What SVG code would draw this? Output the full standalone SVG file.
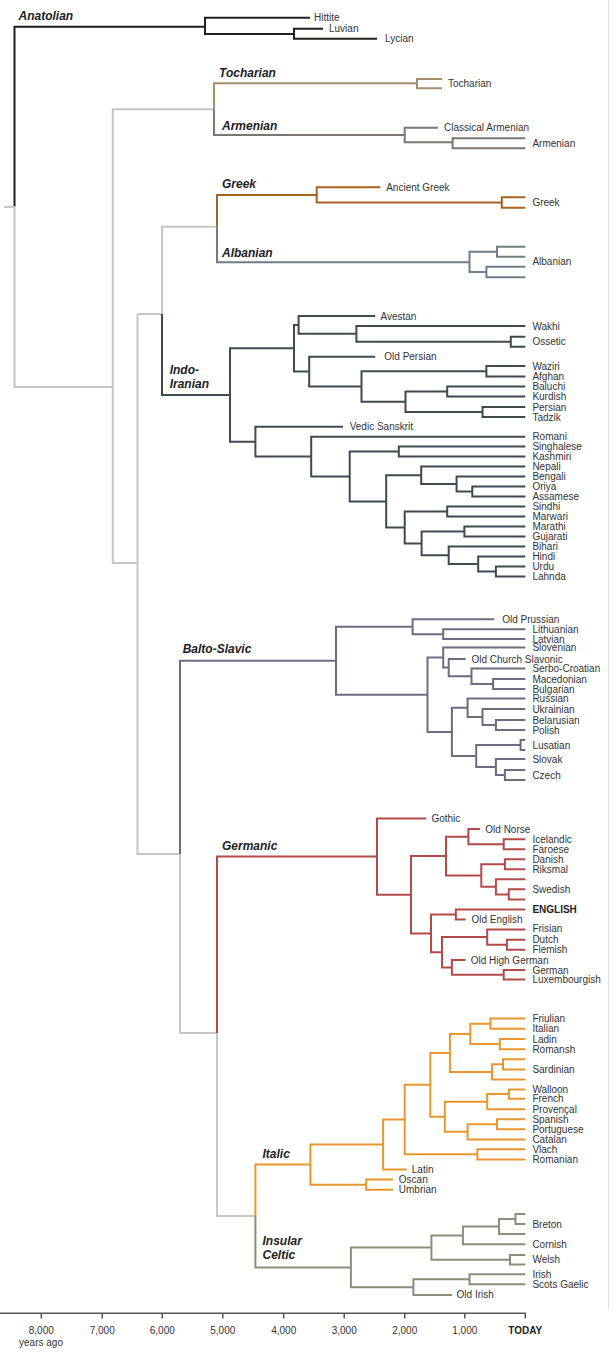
<svg xmlns="http://www.w3.org/2000/svg" width="616" height="1357" viewBox="0 0 616 1357">
<style>
path{fill:none;stroke-width:2;stroke-linejoin:miter;stroke-linecap:butt}
.an{stroke:#231f1c}.gr{stroke:#c6c6c6}.to{stroke:#a38f6b}.ar{stroke:#7b7672}.gk{stroke:#a5651f}.al{stroke:#6f7d89}.ii{stroke:#3f4a50}.bs{stroke:#6c6c80}.ge{stroke:#b34a4a}.it{stroke:#e8962e}.ce{stroke:#8b8f78}
text{font-family:"Liberation Sans",Arial,sans-serif;font-size:10px;fill:#333}
.cl{font-size:12px;font-weight:bold;font-style:italic;fill:#222}
.b{font-weight:bold;fill:#222}
.ax{stroke:#555;stroke-width:1.5}
.tk{text-anchor:middle}
</style>
<rect width="616" height="1357" fill="#fff"/>
<line x1="608.5" y1="0" x2="608.5" y2="1310" stroke="#e2e2e2" stroke-width="1"/>
<g id="connectors">
<path class="an" d="M14.5,207V26.7H205M310,17.7H205V34H294M323,28.7H294V38.7H377"/>
<path class="gr" d="M4,207H14.5V387H112.8M214,109.2H112.8V563H137.5M217,226.7H162V314H137.5M137.5,314V854H180M180,854V1033H217M217,1033V1216H255.4"/>
<path class="to" d="M214,109.2V83.3H417M442,79H417V88.3H442"/>
<path class="ar" d="M214,109.2V135H404.7M438,127.7H404.7V142.3H452.6M525.3,138.3H452.6V148.3H525.3"/>
<path class="gk" d="M217,226.7V195H316.7M380.4,187.3H316.7V202.5H501.8M525.3,197.3H501.8V207.7H525.3"/>
<path class="al" d="M217,226.7V262.3H469.5M497,251.7H469.5V272H486.4M525.3,246.7H497V256.7H525.3M525.3,266.7H486.4V277.3H525.3"/>
<path class="ii" d="M162,314V395H230M294,348.3H230V441.7H255.4M298.6,324.9H294V371.6H309.2M375.2,316H298.6V333.85H356.4M525.3,326H356.4V341.7H510.8M525.3,336.7H510.8V346.7H525.3M375.2,356.7H309.2V386.5H361.5M486.4,371.25H361.5V401.75H405.5M525.3,366H486.4V376.5H525.3M447.2,391.5H405.5V412H482.5M525.3,386.5H447.2V396.5H525.3M525.3,407H482.5V417H525.3M343,426.7H255.4V456.6H311.2M525.3,436.7H311.2V476.5H349.7M398.8,451.5H349.7V501.4H386.2M525.3,446.5H398.8V456.5H525.3M421.2,475.25H386.2V527.5H404.7M525.3,466.5H421.2V484H456.6M525.3,476.5H456.6V491.5H472.3M525.3,486.5H472.3V496.5H525.3M447.2,511.5H404.7V543.4H421.6M525.3,506.5H447.2V516.5H525.3M464.4,531.5H421.6V555.25H448.7M525.3,526.5H464.4V536.5H525.3M525.3,546.5H448.7V564H478.2M525.3,556.5H478.2V571.5H495.9M525.3,566.5H495.9V576.5H525.3"/>
<path class="bs" d="M180,854V660.7H336M412.6,626.7H336V694.75H427.5M494.3,619.3H412.6V634.15H443.2M525.3,629.3H443.2V639H525.3M443.2,657.6H427.5V731.9H451.9M525.3,647.5H443.2V667.6H448.7M465.6,659H448.7V676.25H471.5M525.3,668.5H471.5V684H493.1M525.3,679H493.1V689H525.3M467.6,707.75H451.9V756H476.2M525.3,698.5H467.6V717H482.5M525.3,709H482.5V725H495.9M525.3,720H495.9V730H525.3M520.6,745H476.2V767H495.9M525.3,740H520.6V750H525.3M525.3,759H495.9V775H504.9M525.3,770H504.9V780H525.3"/>
<path class="ge" d="M217,1033V856.6H377M426.3,818.5H377V894.75H411M446,856.1H411V933.4H431M468.4,836.65H446V875.6H481.3M480.2,829H468.4V844.3H503.7M525.3,839.3H503.7V849.3H525.3M504.9,864.3H481.3V886.85H495.9M525.3,859.3H504.9V869.3H525.3M525.3,879.3H495.9V894.4H508.8M525.3,889.3H508.8V899.5H525.3M455.8,914.5H431V952.25H442M525.3,909.5H455.8V919.5H465.6M487.2,937.1H442V967.4H451.9M525.3,929.5H487.2V944.75H506.9M525.3,939.7H506.9V949.8H525.3M465.6,960H451.9V974.75H503.7M525.3,970H503.7V979.5H525.3"/>
<path class="it" d="M255.4,1216V1164.6H310.4M383.1,1144.5H310.4V1184.65H366.2M404.7,1119.6H383.1V1169.4H406.7M430.3,1084.8H404.7V1154.35H477.4M449.9,1052.9H430.3V1116.7H444.8M470.3,1033.9H449.9V1071.9H492M490.4,1023.65H470.3V1044.1H499.8M525.3,1018.5H490.4V1028.8H525.3M525.3,1039H499.8V1049.2H525.3M503,1064.35H492V1079.5H525.3M525.3,1059.3H503V1069.4H525.3M487.2,1101.65H444.8V1131.8H467.6M508.8,1094.1H487.2V1109.2H525.3M525.3,1089.4H508.8V1098.8H525.3M497,1124.25H467.6V1139.4H525.3M525.3,1119.2H497V1129.3H525.3M525.3,1149.3H477.4V1159.4H525.3M393,1179.5H366.2V1189.8H393"/>
<path class="ce" d="M255.4,1216V1267.4H350.9M431.4,1247.6H350.9V1287.15H413.4M462.9,1235.4H431.4V1259.75H510M499,1226.5H462.9V1244.3H525.3M515.5,1219H499V1234H525.3M525.3,1214H515.5V1224H525.3M525.3,1255H510V1264.5H525.3M469.5,1279.3H413.4V1295H451.9M525.3,1274.3H469.5V1284.3H525.3"/>
</g>
<g id="clades">
<g id="c-anatolian"><text class="cl" x="18.5" y="20.3">Anatolian</text></g>
<g id="c-tocharian"><text class="cl" x="219" y="77">Tocharian</text></g>
<g id="c-armenian"><text class="cl" x="222" y="130">Armenian</text></g>
<g id="c-greek"><text class="cl" x="222" y="188.3">Greek</text></g>
<g id="c-albanian"><text class="cl" x="222" y="256.6">Albanian</text></g>
<g id="c-indoiranian"><text class="cl" x="169.7" y="374.3">Indo-</text><text class="cl" x="169.7" y="388.3">Iranian</text></g>
<g id="c-baltoslavic"><text class="cl" x="182.7" y="653.3">Balto-Slavic</text></g>
<g id="c-germanic"><text class="cl" x="222" y="850">Germanic</text></g>
<g id="c-italic"><text class="cl" x="262.5" y="1157.6">Italic</text></g>
<g id="c-celtic"><text class="cl" x="262.5" y="1245">Insular</text><text class="cl" x="262.5" y="1258.6">Celtic</text></g>
</g>
<g id="leaves">
<g id="l-hittite"><text x="314" y="21.2">Hittite</text></g>
<g id="l-luvian"><text x="329" y="32.2">Luvian</text></g>
<g id="l-lycian"><text x="385" y="42.2">Lycian</text></g>
<g id="l-tocharian"><text x="448" y="86.8">Tocharian</text></g>
<g id="l-classical-armenian"><text x="444" y="131.2">Classical Armenian</text></g>
<g id="l-armenian"><text x="532.4" y="146.8">Armenian</text></g>
<g id="l-ancient-greek"><text x="386.2" y="190.8">Ancient Greek</text></g>
<g id="l-greek"><text x="532.4" y="206">Greek</text></g>
<g id="l-albanian"><text x="532.4" y="265">Albanian</text></g>
<g id="l-avestan"><text x="380.4" y="319.5">Avestan</text></g>
<g id="l-wakhi"><text x="532.4" y="329.5">Wakhi</text></g>
<g id="l-ossetic"><text x="532.4" y="345.2">Ossetic</text></g>
<g id="l-old-persian"><text x="384.3" y="360.2">Old Persian</text></g>
<g id="l-waziri"><text x="532.4" y="369.5">Waziri</text></g>
<g id="l-afghan"><text x="532.4" y="380">Afghan</text></g>
<g id="l-baluchi"><text x="532.4" y="390">Baluchi</text></g>
<g id="l-kurdish"><text x="532.4" y="400">Kurdish</text></g>
<g id="l-persian"><text x="532.4" y="410.5">Persian</text></g>
<g id="l-tadzik"><text x="532.4" y="420.5">Tadzik</text></g>
<g id="l-vedic"><text x="349.7" y="430.2">Vedic Sanskrit</text></g>
<g id="l-romani"><text x="532.4" y="440.2">Romani</text></g>
<g id="l-singhalese"><text x="532.4" y="450">Singhalese</text></g>
<g id="l-kashmiri"><text x="532.4" y="460">Kashmiri</text></g>
<g id="l-nepali"><text x="532.4" y="470">Nepali</text></g>
<g id="l-bengali"><text x="532.4" y="480">Bengali</text></g>
<g id="l-oriya"><text x="532.4" y="490">Oriya</text></g>
<g id="l-assamese"><text x="532.4" y="500">Assamese</text></g>
<g id="l-sindhi"><text x="532.4" y="510">Sindhi</text></g>
<g id="l-marwari"><text x="532.4" y="520">Marwari</text></g>
<g id="l-marathi"><text x="532.4" y="530">Marathi</text></g>
<g id="l-gujarati"><text x="532.4" y="540">Gujarati</text></g>
<g id="l-bihari"><text x="532.4" y="550">Bihari</text></g>
<g id="l-hindi"><text x="532.4" y="560">Hindi</text></g>
<g id="l-urdu"><text x="532.4" y="570">Urdu</text></g>
<g id="l-lahnda"><text x="532.4" y="580">Lahnda</text></g>
<g id="l-old-prussian"><text x="502.2" y="622.8">Old Prussian</text></g>
<g id="l-lithuanian"><text x="532.4" y="632.8">Lithuanian</text></g>
<g id="l-latvian"><text x="532.4" y="642.5">Latvian</text></g>
<g id="l-slovenian"><text x="532.4" y="651">Slovenian</text></g>
<g id="l-ocs"><text x="471.5" y="662.5">Old Church Slavonic</text></g>
<g id="l-serbo-croatian"><text x="532.4" y="672">Serbo-Croatian</text></g>
<g id="l-macedonian"><text x="532.4" y="682.5">Macedonian</text></g>
<g id="l-bulgarian"><text x="532.4" y="692.5">Bulgarian</text></g>
<g id="l-russian"><text x="532.4" y="702">Russian</text></g>
<g id="l-ukrainian"><text x="532.4" y="712.5">Ukrainian</text></g>
<g id="l-belarusian"><text x="532.4" y="723.5">Belarusian</text></g>
<g id="l-polish"><text x="532.4" y="733.5">Polish</text></g>
<g id="l-lusatian"><text x="532.4" y="748.5">Lusatian</text></g>
<g id="l-slovak"><text x="532.4" y="762.5">Slovak</text></g>
<g id="l-czech"><text x="532.4" y="778.5">Czech</text></g>
<g id="l-gothic"><text x="431.4" y="822">Gothic</text></g>
<g id="l-old-norse"><text x="485.3" y="832.5">Old Norse</text></g>
<g id="l-icelandic"><text x="532.4" y="842.8">Icelandic</text></g>
<g id="l-faroese"><text x="532.4" y="852.8">Faroese</text></g>
<g id="l-danish"><text x="532.4" y="862.8">Danish</text></g>
<g id="l-riksmal"><text x="532.4" y="872.8">Riksmal</text></g>
<g id="l-swedish"><text x="532.4" y="892.8">Swedish</text></g>
<g id="l-english"><text class="b" x="532.4" y="913">ENGLISH</text></g>
<g id="l-old-english"><text x="471.5" y="923">Old English</text></g>
<g id="l-frisian"><text x="532.4" y="932">Frisian</text></g>
<g id="l-dutch"><text x="532.4" y="942.5">Dutch</text></g>
<g id="l-flemish"><text x="532.4" y="952.8">Flemish</text></g>
<g id="l-ohg"><text x="470.7" y="963.5">Old High German</text></g>
<g id="l-german"><text x="532.4" y="973.5">German</text></g>
<g id="l-luxembourgish"><text x="532.4" y="983">Luxembourgish</text></g>
<g id="l-friulian"><text x="532.4" y="1022">Friulian</text></g>
<g id="l-italian"><text x="532.4" y="1032.3">Italian</text></g>
<g id="l-ladin"><text x="532.4" y="1042.5">Ladin</text></g>
<g id="l-romansh"><text x="532.4" y="1052.7">Romansh</text></g>
<g id="l-sardinian"><text x="532.4" y="1072.9">Sardinian</text></g>
<g id="l-walloon"><text x="532.4" y="1092.9">Walloon</text></g>
<g id="l-french"><text x="532.4" y="1102.3">French</text></g>
<g id="l-provencal"><text x="532.4" y="1112.7">Provençal</text></g>
<g id="l-spanish"><text x="532.4" y="1122.7">Spanish</text></g>
<g id="l-portuguese"><text x="532.4" y="1132.8">Portuguese</text></g>
<g id="l-catalan"><text x="532.4" y="1142.9">Catalan</text></g>
<g id="l-vlach"><text x="532.4" y="1152.8">Vlach</text></g>
<g id="l-romanian"><text x="532.4" y="1162.9">Romanian</text></g>
<g id="l-latin"><text x="411.8" y="1172.9">Latin</text></g>
<g id="l-oscan"><text x="398.8" y="1183">Oscan</text></g>
<g id="l-umbrian"><text x="398.8" y="1193.3">Umbrian</text></g>
<g id="l-breton"><text x="532.4" y="1227.5">Breton</text></g>
<g id="l-cornish"><text x="532.4" y="1247.8">Cornish</text></g>
<g id="l-welsh"><text x="532.4" y="1263.2">Welsh</text></g>
<g id="l-irish"><text x="532.4" y="1277.8">Irish</text></g>
<g id="l-scots-gaelic"><text x="532.4" y="1287.8">Scots Gaelic</text></g>
<g id="l-old-irish"><text x="456.6" y="1298">Old Irish</text></g>
</g>
<g id="axis">
<path class="ax" d="M0,1313.3H526M41.3,1313.3V1318.5M102.2,1313.3V1318.5M162.3,1313.3V1318.5M222.8,1313.3V1318.5M283.7,1313.3V1318.5M344.2,1313.3V1318.5M404.7,1313.3V1318.5M464.8,1313.3V1318.5M525.3,1313.3V1318.5"/>
<text class="tk" x="41.3" y="1333.5">8,000</text>
<text class="tk" x="102.2" y="1333.5">7,000</text>
<text class="tk" x="162.3" y="1333.5">6,000</text>
<text class="tk" x="222.8" y="1333.5">5,000</text>
<text class="tk" x="283.7" y="1333.5">4,000</text>
<text class="tk" x="344.2" y="1333.5">3,000</text>
<text class="tk" x="404.7" y="1333.5">2,000</text>
<text class="tk" x="464.8" y="1333.5">1,000</text>
<text class="tk b" x="525.3" y="1333.5">TODAY</text>
<text class="tk" x="41" y="1346">years ago</text>
</g>
</svg>
